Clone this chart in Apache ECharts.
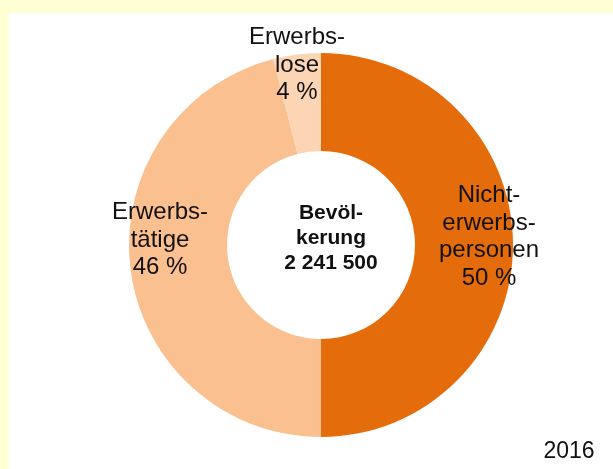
<!DOCTYPE html>
<html>
<head>
<meta charset="utf-8">
<script src="https://cdn.jsdelivr.net/npm/echarts@6/dist/echarts.min.js"></script>
<style>
  html, body { margin: 0; padding: 0; }
  #main { width: 613px; height: 469px; }
</style>
</head>
<body>
<div id="main"></div>
<script>
var categories = ['Nichterwerbspersonen', 'Erwerbstätige', 'Erwerbslose'];
var labelNames = ['Nicht-\nerwerbs-\npersonen', 'Erwerbs-\ntätige', 'Erwerbs-\nlose'];
var shares = [50, 46, 4];
var colors = ['#E46C0A', '#FAC090', '#FCD5B5'];
var totalLabel = 'Bevöl-\nkerung\n2 241 500';
var yearLabel = '2016';

// where each slice label sits (block centre)
var labelPos = [[489, 237], [160, 240], [297, 65]];

var myChart = echarts.init(document.getElementById('main'));

var option = {
    backgroundColor: '#FFFFD4',
    animation: false,
    graphic: [
        {
            type: 'rect',
            z: -10,
            shape: { x: 9, y: 13, width: 604, height: 456 },
            style: { fill: '#ffffff' }
        },
        {
            type: 'text',
            x: 331, y: 238,
            z: 10,
            style: {
                text: totalLabel,
                font: 'bold 21px "Liberation Sans", Arial, sans-serif',
                lineHeight: 25,
                fill: '#111111',
                align: 'center',
                verticalAlign: 'middle'
            }
        },
        {
            type: 'text',
            x: 569, y: 452,
            style: {
                text: yearLabel,
                font: '23px "Liberation Sans", Arial, sans-serif',
                fill: '#111111',
                align: 'center',
                verticalAlign: 'middle'
            }
        }
    ],
    series: [
        {
            type: 'pie',
            center: [321, 245],
            radius: [94, 192],
            startAngle: 90,
            clockwise: true,
            silent: true,
            itemStyle: { borderWidth: 0 },
            label: {
                show: true,
                position: 'outside',
                alignTo: 'none',
                overflow: 'none',
                width: 200,
                fontFamily: '"Liberation Sans", Arial, sans-serif',
                fontSize: 24,
                lineHeight: 27.5,
                color: '#111111',
                align: 'center',
                formatter: function (p) {
                    return labelNames[p.dataIndex] + '\n' + p.value + ' %';
                }
            },
            labelLine: { show: false },
            labelLayout: function (p) {
                return {
                    x: labelPos[p.dataIndex][0],
                    y: labelPos[p.dataIndex][1],
                    align: 'center',
                    verticalAlign: 'middle'
                };
            },
            data: categories.map(function (c, i) {
                return { name: c, value: shares[i], itemStyle: { color: colors[i] } };
            })
        }
    ]
};

option && myChart.setOption(option);
</script>
</body>
</html>
